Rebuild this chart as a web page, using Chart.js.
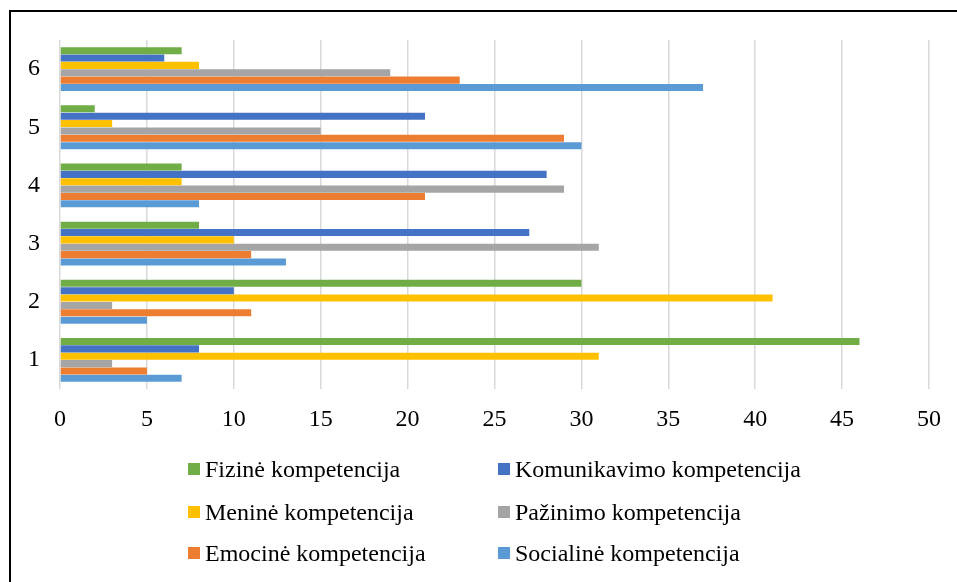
<!DOCTYPE html>
<html>
<head>
<meta charset="utf-8">
<script src="https://cdn.jsdelivr.net/npm/chart.js@4"></script>
<style>
html,body{margin:0;padding:0;background:#fff;}
#wrap{position:relative;width:957px;height:582px;overflow:hidden;}
#frame{position:absolute;left:9px;top:10px;width:960px;height:600px;border-left:2px solid #000;border-top:2px solid #000;box-sizing:border-box;}
canvas{position:absolute;left:0;top:0;}
.lg{position:absolute;display:flex;align-items:center;font-family:"Liberation Serif","Times New Roman",serif;font-size:24px;color:#000;white-space:nowrap;}
.lg span.b{display:inline-block;width:12px;height:12px;margin-right:5px;}
</style>
</head>
<body>
<div id="wrap">
<div id="frame"></div>
<canvas id="c" width="957" height="582"></canvas>
</div>
<script>
const categories = ['1','2','3','4','5','6'];
const seriesNames = ['Fizinė kompetencija','Komunikavimo kompetencija','Meninė kompetencija','Pažinimo kompetencija','Emocinė kompetencija','Socialinė kompetencija'];
const colors = ['#70AD47','#4472C4','#FFC000','#A5A5A5','#ED7D31','#5B9BD5'];
const fizine       = [46, 30, 8, 7, 2, 7];
const komunikavimo = [8, 10, 27, 28, 21, 6];
const menine       = [31, 41, 10, 7, 3, 8];
const pazinimo     = [3, 3, 31, 29, 15, 19];
const emocine      = [5, 11, 11, 21, 29, 23];
const socialine    = [7, 5, 13, 8, 30, 37];
const xTicks = [0,5,10,15,20,25,30,35,40,45,50];

const values = [fizine, komunikavimo, menine, pazinimo, emocine, socialine];
const datasets = seriesNames.map((n,i)=>({label:n,data:values[i],backgroundColor:colors[i],borderWidth:0,barPercentage:0.96,categoryPercentage:0.76}));

const font = {family:'"Liberation Serif","Times New Roman",serif',size:24};
new Chart(document.getElementById('c'),{
  type:'bar',
  data:{labels:categories,datasets},
  options:{
    indexAxis:'y',
    responsive:false,
    animation:false,
    layout:{padding:{left:10,right:28,top:40,bottom:143}},
    plugins:{legend:{display:false},tooltip:{enabled:false}},
    scales:{
      x:{min:0,max:50,
        afterBuildTicks:(s)=>{s.ticks=xTicks.map(v=>({value:v}));},
        afterFit:(s)=>{s.height=50;},
        grid:{color:'#d9d9d9',lineWidth:1.5,drawTicks:false},
        border:{display:false},
        ticks:{color:'#000',font,padding:16}},
      y:{reverse:true,
        afterFit:(s)=>{s.width=50;},
        grid:{display:false,drawTicks:false},
        border:{display:false},
        ticks:{color:'#000',font,padding:20}}
    }
  }
});

const pos = [[188,469],[498,469],[188,512],[498,512],[188,553],[498,553]];
const wrap = document.getElementById('wrap');
seriesNames.forEach((n,i)=>{
  const d=document.createElement('div');
  d.className='lg';
  d.style.left=pos[i][0]+'px';
  d.style.top=(pos[i][1]-15)+'px';
  d.style.height='30px';
  const b=document.createElement('span');b.className='b';b.style.background=colors[i];
  d.appendChild(b);
  d.appendChild(document.createTextNode(n));
  wrap.appendChild(d);
});
</script>
</body>
</html>
